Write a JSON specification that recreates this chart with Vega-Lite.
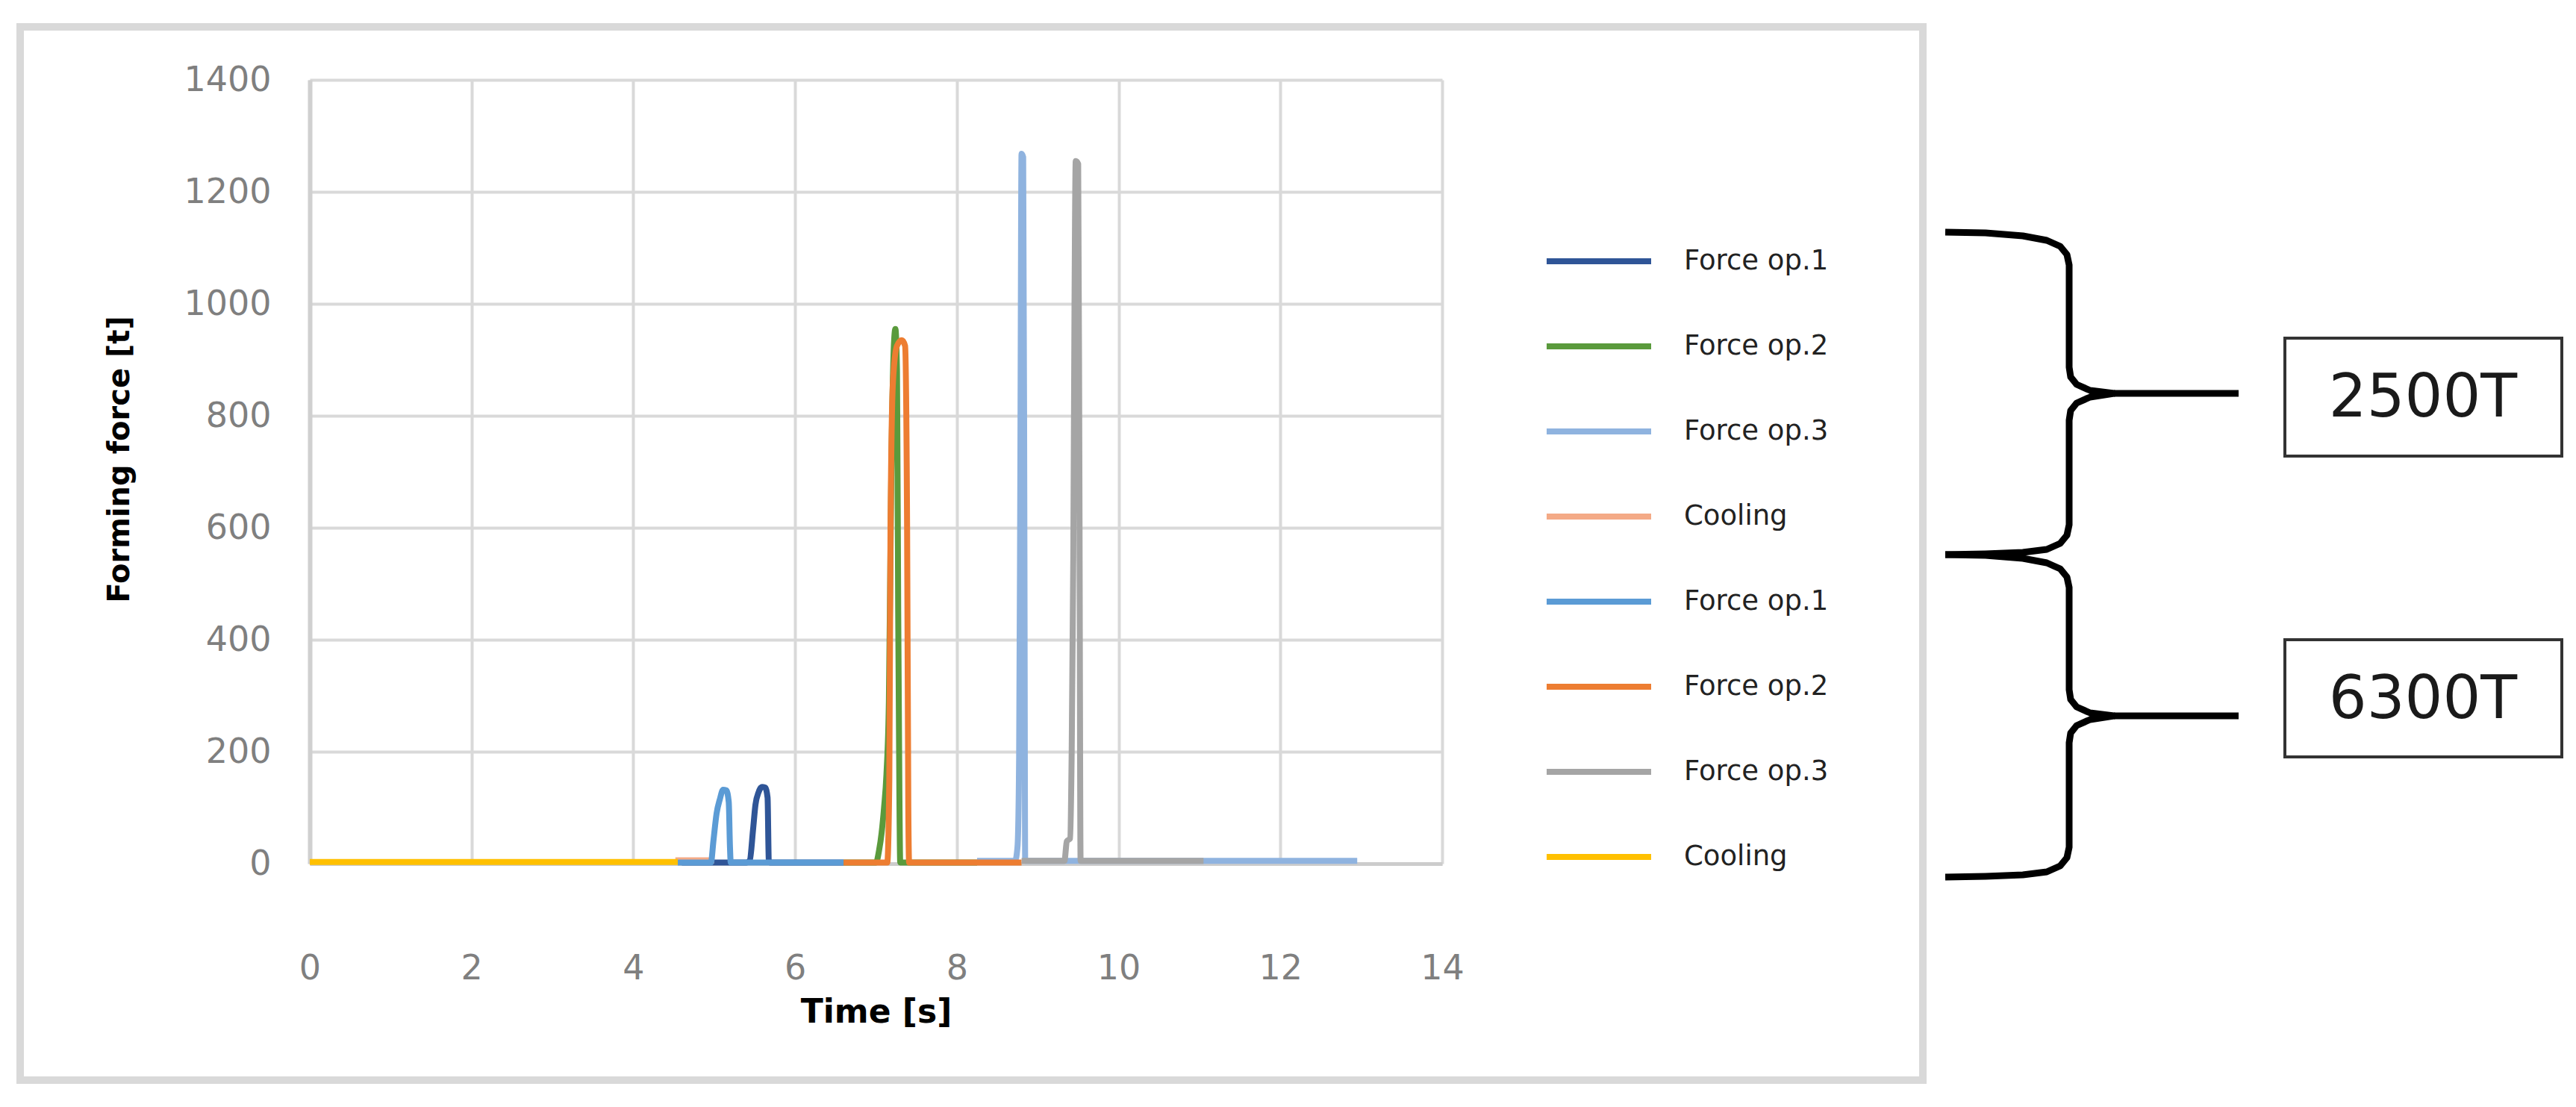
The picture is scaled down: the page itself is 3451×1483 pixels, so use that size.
{
  "$schema": "https://vega.github.io/schema/vega-lite/v6.json",
  "padding": {"left": 22, "top": 31, "right": 14, "bottom": 20},
  "background": "white",
  "width": 1517,
  "height": 1050,
  "config": {"view": {"stroke": null}},
  "datasets": {
    "force": [
      {"series": "1 Force op.1", "t": 4.6, "f": 2}, {"series": "1 Force op.1", "t": 5.4, "f": 2}, {"series": "1 Force op.1", "t": 5.44, "f": 6}, {"series": "1 Force op.1", "t": 5.48, "f": 60}, {"series": "1 Force op.1", "t": 5.51, "f": 105}, {"series": "1 Force op.1", "t": 5.55, "f": 128}, {"series": "1 Force op.1", "t": 5.59, "f": 137}, {"series": "1 Force op.1", "t": 5.63, "f": 136}, {"series": "1 Force op.1", "t": 5.66, "f": 118}, {"series": "1 Force op.1", "t": 5.675, "f": 6}, {"series": "1 Force op.1", "t": 5.69, "f": 2}, {"series": "1 Force op.1", "t": 6.6, "f": 2},
      {"series": "2 Force op.2", "t": 6.6, "f": 2}, {"series": "2 Force op.2", "t": 7.0, "f": 2}, {"series": "2 Force op.2", "t": 7.04, "f": 25}, {"series": "2 Force op.2", "t": 7.07, "f": 55}, {"series": "2 Force op.2", "t": 7.1, "f": 100}, {"series": "2 Force op.2", "t": 7.13, "f": 160}, {"series": "2 Force op.2", "t": 7.16, "f": 290}, {"series": "2 Force op.2", "t": 7.19, "f": 700}, {"series": "2 Force op.2", "t": 7.22, "f": 920}, {"series": "2 Force op.2", "t": 7.24, "f": 955}, {"series": "2 Force op.2", "t": 7.26, "f": 880}, {"series": "2 Force op.2", "t": 7.275, "f": 450}, {"series": "2 Force op.2", "t": 7.29, "f": 120}, {"series": "2 Force op.2", "t": 7.3, "f": 2}, {"series": "2 Force op.2", "t": 8.25, "f": 2},
      {"series": "3 Force op.3", "t": 8.25, "f": 5}, {"series": "3 Force op.3", "t": 8.72, "f": 5}, {"series": "3 Force op.3", "t": 8.75, "f": 30}, {"series": "3 Force op.3", "t": 8.77, "f": 190}, {"series": "3 Force op.3", "t": 8.785, "f": 700}, {"series": "3 Force op.3", "t": 8.8, "f": 1268}, {"series": "3 Force op.3", "t": 8.82, "f": 1262}, {"series": "3 Force op.3", "t": 8.835, "f": 600}, {"series": "3 Force op.3", "t": 8.845, "f": 5}, {"series": "3 Force op.3", "t": 12.95, "f": 5},
      {"series": "4 Cooling", "t": 4.52, "f": 6}, {"series": "4 Cooling", "t": 5.0, "f": 6},
      {"series": "5 Force op.1", "t": 4.55, "f": 2}, {"series": "5 Force op.1", "t": 4.96, "f": 2}, {"series": "5 Force op.1", "t": 4.99, "f": 40}, {"series": "5 Force op.1", "t": 5.03, "f": 90}, {"series": "5 Force op.1", "t": 5.07, "f": 115}, {"series": "5 Force op.1", "t": 5.11, "f": 132}, {"series": "5 Force op.1", "t": 5.15, "f": 131}, {"series": "5 Force op.1", "t": 5.18, "f": 110}, {"series": "5 Force op.1", "t": 5.195, "f": 30}, {"series": "5 Force op.1", "t": 5.205, "f": 2}, {"series": "5 Force op.1", "t": 6.6, "f": 2},
      {"series": "6 Force op.2", "t": 6.6, "f": 2}, {"series": "6 Force op.2", "t": 7.14, "f": 2}, {"series": "6 Force op.2", "t": 7.165, "f": 150}, {"series": "6 Force op.2", "t": 7.18, "f": 600}, {"series": "6 Force op.2", "t": 7.21, "f": 860}, {"series": "6 Force op.2", "t": 7.26, "f": 925}, {"series": "6 Force op.2", "t": 7.32, "f": 935}, {"series": "6 Force op.2", "t": 7.36, "f": 925}, {"series": "6 Force op.2", "t": 7.385, "f": 600}, {"series": "6 Force op.2", "t": 7.4, "f": 100}, {"series": "6 Force op.2", "t": 7.41, "f": 2}, {"series": "6 Force op.2", "t": 8.8, "f": 2},
      {"series": "7 Force op.3", "t": 8.8, "f": 5}, {"series": "7 Force op.3", "t": 9.33, "f": 5}, {"series": "7 Force op.3", "t": 9.36, "f": 40}, {"series": "7 Force op.3", "t": 9.4, "f": 45}, {"series": "7 Force op.3", "t": 9.42, "f": 200}, {"series": "7 Force op.3", "t": 9.44, "f": 550}, {"series": "7 Force op.3", "t": 9.455, "f": 1000}, {"series": "7 Force op.3", "t": 9.47, "f": 1255}, {"series": "7 Force op.3", "t": 9.5, "f": 1250}, {"series": "7 Force op.3", "t": 9.515, "f": 700}, {"series": "7 Force op.3", "t": 9.53, "f": 5}, {"series": "7 Force op.3", "t": 11.05, "f": 5},
      {"series": "8 Cooling", "t": 0, "f": 3}, {"series": "8 Cooling", "t": 4.55, "f": 3}
    ],
    "braces": [
      {"part": "b1", "o": 0, "px": 2606, "py": 311}, {"part": "b1", "o": 1, "px": 2660, "py": 312}, {"part": "b1", "o": 2, "px": 2710, "py": 316}, {"part": "b1", "o": 3, "px": 2742, "py": 322}, {"part": "b1", "o": 4, "px": 2760, "py": 330}, {"part": "b1", "o": 5, "px": 2769, "py": 341}, {"part": "b1", "o": 6, "px": 2772, "py": 355}, {"part": "b1", "o": 7, "px": 2772, "py": 492}, {"part": "b1", "o": 8, "px": 2774, "py": 505}, {"part": "b1", "o": 9, "px": 2782, "py": 515}, {"part": "b1", "o": 10, "px": 2800, "py": 523}, {"part": "b1", "o": 11, "px": 2832, "py": 527}, {"part": "b1", "o": 12, "px": 2800, "py": 532}, {"part": "b1", "o": 13, "px": 2782, "py": 540}, {"part": "b1", "o": 14, "px": 2774, "py": 550}, {"part": "b1", "o": 15, "px": 2772, "py": 563}, {"part": "b1", "o": 16, "px": 2772, "py": 703}, {"part": "b1", "o": 17, "px": 2769, "py": 717}, {"part": "b1", "o": 18, "px": 2760, "py": 728}, {"part": "b1", "o": 19, "px": 2742, "py": 736}, {"part": "b1", "o": 20, "px": 2710, "py": 740}, {"part": "b1", "o": 21, "px": 2660, "py": 742}, {"part": "b1", "o": 22, "px": 2606, "py": 743},
      {"part": "b2", "o": 0, "px": 2606, "py": 743}, {"part": "b2", "o": 1, "px": 2660, "py": 744}, {"part": "b2", "o": 2, "px": 2710, "py": 748}, {"part": "b2", "o": 3, "px": 2742, "py": 754}, {"part": "b2", "o": 4, "px": 2760, "py": 762}, {"part": "b2", "o": 5, "px": 2769, "py": 773}, {"part": "b2", "o": 6, "px": 2772, "py": 787}, {"part": "b2", "o": 7, "px": 2772, "py": 924}, {"part": "b2", "o": 8, "px": 2774, "py": 937}, {"part": "b2", "o": 9, "px": 2782, "py": 947}, {"part": "b2", "o": 10, "px": 2800, "py": 955}, {"part": "b2", "o": 11, "px": 2832, "py": 959}, {"part": "b2", "o": 12, "px": 2800, "py": 964}, {"part": "b2", "o": 13, "px": 2782, "py": 972}, {"part": "b2", "o": 14, "px": 2774, "py": 982}, {"part": "b2", "o": 15, "px": 2772, "py": 995}, {"part": "b2", "o": 16, "px": 2772, "py": 1135}, {"part": "b2", "o": 17, "px": 2769, "py": 1149}, {"part": "b2", "o": 18, "px": 2760, "py": 1160}, {"part": "b2", "o": 19, "px": 2742, "py": 1168}, {"part": "b2", "o": 20, "px": 2710, "py": 1172}, {"part": "b2", "o": 21, "px": 2660, "py": 1174}, {"part": "b2", "o": 22, "px": 2606, "py": 1175},
      {"part": "t1", "o": 0, "px": 2832, "py": 527}, {"part": "t1", "o": 1, "px": 2999, "py": 527},
      {"part": "t2", "o": 0, "px": 2832, "py": 959}, {"part": "t2", "o": 1, "px": 2999, "py": 959}
    ],
    "boxes": [
      {"label": "2500T", "x1": 3061, "x2": 3432, "y1": 453, "y2": 611, "cx": 3246, "cy": 534},
      {"label": "6300T", "x1": 3061, "x2": 3432, "y1": 857, "y2": 1014, "cx": 3246, "cy": 938}
    ],
    "frame": [
      {"x1": 27, "x2": 2576, "y1": 36, "y2": 1447}
    ]
  },
  "layer": [
    {
      "data": {"name": "force"},
      "mark": {"type": "line", "strokeWidth": 8, "interpolate": "monotone", "strokeJoin": "round"},
      "encoding": {
        "x": {
          "field": "t", "type": "quantitative",
          "scale": {"domain": [0, 14], "nice": false, "zero": false},
          "axis": {
            "title": "Time [s]", "values": [0, 2, 4, 6, 8, 10, 12, 14], "format": "d",
            "grid": true, "gridColor": "#d9d9d9", "gridWidth": 4,
            "domain": true, "domainColor": "#cccccc", "domainWidth": 5,
            "ticks": false, "labelFont": "DejaVu Sans", "labelFontSize": 46, "labelColor": "#7f7f7f",
            "labelPadding": 118, "labelFlush": false, "labelOverlap": false,
            "titleFont": "DejaVu Sans", "titleFontSize": 44, "titleFontWeight": "bold", "titleColor": "#000000", "titlePadding": 14
          }
        },
        "y": {
          "field": "f", "type": "quantitative",
          "scale": {"domain": [0, 1400], "nice": false},
          "axis": {
            "title": "Forming force [t]", "values": [0, 200, 400, 600, 800, 1000, 1200, 1400], "format": "d",
            "grid": true, "gridColor": "#d9d9d9", "gridWidth": 4,
            "domain": true, "domainColor": "#d0d0d0", "domainWidth": 6,
            "ticks": false, "labelFont": "DejaVu Sans", "labelFontSize": 46, "labelColor": "#7f7f7f",
            "labelPadding": 52, "labelFlush": false, "labelOverlap": false,
            "titleFont": "DejaVu Sans", "titleFontSize": 40, "titleFontWeight": "bold", "titleColor": "#000000", "titlePadding": 65,
            "titleY": 508
          }
        },
        "color": {
          "field": "series", "type": "nominal",
          "scale": {
            "domain": ["1 Force op.1", "2 Force op.2", "3 Force op.3", "4 Cooling", "5 Force op.1", "6 Force op.2", "7 Force op.3", "8 Cooling"],
            "range": ["#2f5597", "#5a9a3c", "#8fb3df", "#f4aa86", "#5b9bd5", "#ed7d31", "#a5a5a5", "#ffc000"]
          },
          "legend": {
            "orient": "none", "legendX": 1653, "legendY": 223, "title": null,
            "symbolType": "stroke", "symbolSize": 19600, "symbolStrokeWidth": 8,
            "clipHeight": 40, "rowPadding": 74, "labelOffset": 40, "padding": 0, "symbolOffset": 0,
            "labelFont": "DejaVu Sans", "labelFontSize": 37, "labelColor": "#222222", "labelLimit": 0,
            "labelExpr": "substring(datum.label, 2)"
          }
        }
      }
    },
    {
      "layer": [
        {
          "data": {"name": "frame"},
          "mark": {"type": "rect", "filled": false, "stroke": "#d9d9d9", "strokeWidth": 10},
          "encoding": {
            "x": {"field": "x1", "type": "quantitative", "scale": {"domain": [415, 1932], "nice": false, "zero": false}, "axis": null},
            "x2": {"field": "x2"},
            "y": {"field": "y1", "type": "quantitative", "scale": {"domain": [107, 1157], "nice": false, "zero": false, "reverse": true}, "axis": null},
            "y2": {"field": "y2"}
          }
        },
        {
          "data": {"name": "braces"},
          "mark": {"type": "line", "stroke": "#000000", "strokeWidth": 9, "strokeJoin": "round", "strokeCap": "butt"},
          "encoding": {
            "x": {"field": "px", "type": "quantitative", "axis": null},
            "y": {"field": "py", "type": "quantitative", "axis": null},
            "detail": {"field": "part"},
            "order": {"field": "o", "type": "quantitative"}
          }
        },
        {
          "data": {"name": "boxes"},
          "mark": {"type": "rect", "fill": "#ffffff", "stroke": "#333333", "strokeWidth": 4},
          "encoding": {
            "x": {"field": "x1", "type": "quantitative", "axis": null},
            "x2": {"field": "x2"},
            "y": {"field": "y1", "type": "quantitative", "axis": null},
            "y2": {"field": "y2"}
          }
        },
        {
          "data": {"name": "boxes"},
          "mark": {"type": "text", "font": "DejaVu Sans", "fontSize": 80, "color": "#1a1a1a", "align": "center", "baseline": "middle"},
          "encoding": {
            "x": {"field": "cx", "type": "quantitative", "axis": null},
            "y": {"field": "cy", "type": "quantitative", "axis": null},
            "text": {"field": "label"}
          }
        }
      ]
    }
  ],
  "resolve": {"scale": {"x": "independent", "y": "independent"}}
}
